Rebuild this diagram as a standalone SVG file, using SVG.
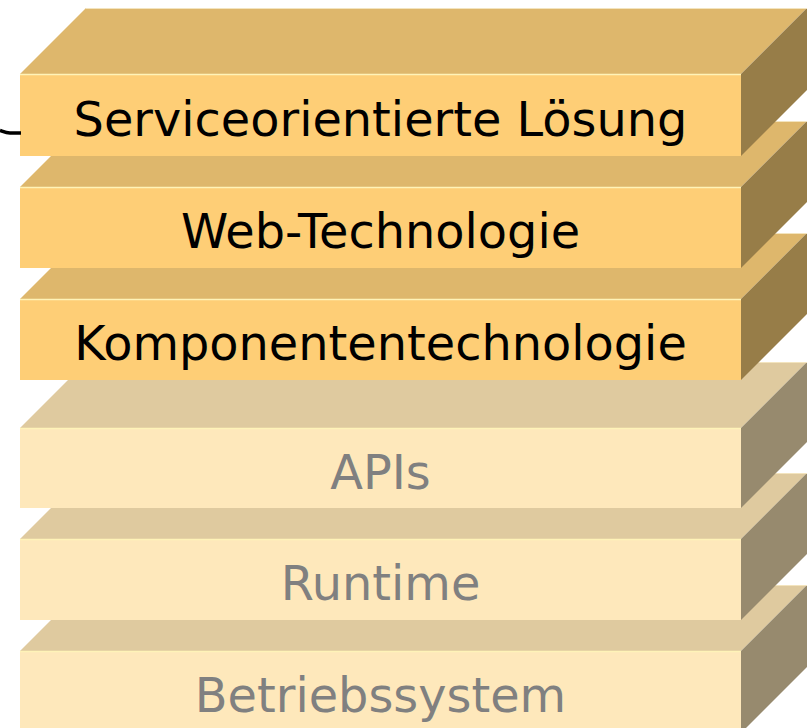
<svg xmlns="http://www.w3.org/2000/svg" width="811" height="728" viewBox="0 0 811 728">
  <style>
    .lbl { font-family: "DejaVu Sans", Verdana, sans-serif; font-size: 47.8px; text-anchor: middle; }
    .hot .front { fill: #FECE76; }
    .hot .top { fill: #DEB76C; }
    .hot .side { fill: #977D48; }
    .hot .lbl { fill: #000000; }
    .cold .front { fill: #FEE8BB; }
    .cold .top { fill: #DFCA9F; }
    .cold .side { fill: #978A6E; }
    .cold .lbl { fill: #808080; }
    .hl { stroke: #FFF3B8; stroke-width: 1.5; fill: none; }
    .edge { stroke: #F3E4BE; stroke-width: 1; fill: none; }
  </style>

  <rect width="811" height="728" fill="#FFFFFF"/>

  <!-- stack drawn from the bottom layer upward so upper slabs overlap lower ones -->
  <g id="layer-betriebssystem" class="cold">
    <polygon class="top" points="20,651 86,585 807,585 741,651"/>
    <polygon class="side" points="741,651 807,585 807,667 741,733"/>
    <rect class="front" x="20" y="651" width="721" height="82"/>
    <line class="hl" x1="20" y1="651.5" x2="741" y2="651.5"/>
    <line class="edge" x1="86" y1="585.5" x2="807" y2="585.5"/>
    <text class="lbl" x="380.5" y="712">Betriebssystem</text>
  </g>

  <g id="layer-runtime" class="cold">
    <polygon class="top" points="20,539 86,473 807,473 741,539"/>
    <polygon class="side" points="741,539 807,473 807,554 741,620"/>
    <rect class="front" x="20" y="539" width="721" height="81"/>
    <line class="hl" x1="20" y1="539.5" x2="741" y2="539.5"/>
    <line class="edge" x1="86" y1="473.5" x2="807" y2="473.5"/>
    <text class="lbl" x="380.5" y="600">Runtime</text>
  </g>

  <g id="layer-apis" class="cold">
    <polygon class="top" points="20,428 86,362 807,362 741,428"/>
    <polygon class="side" points="741,428 807,362 807,442 741,508"/>
    <rect class="front" x="20" y="428" width="721" height="80"/>
    <line class="hl" x1="20" y1="428.5" x2="741" y2="428.5"/>
    <line class="edge" x1="86" y1="362.5" x2="807" y2="362.5"/>
    <text class="lbl" x="380.5" y="489">APIs</text>
  </g>

  <g id="layer-komponententechnologie" class="hot">
    <polygon class="top" points="20,299 86,233 807,233 741,299"/>
    <polygon class="side" points="741,299 807,233 807,314 741,380"/>
    <rect class="front" x="20" y="299" width="721" height="81"/>
    <line class="hl" x1="20" y1="299.5" x2="741" y2="299.5"/>
    <line class="edge" x1="86" y1="233.5" x2="807" y2="233.5"/>
    <text class="lbl" x="380.5" y="360">Komponententechnologie</text>
  </g>

  <g id="layer-web-technologie" class="hot">
    <polygon class="top" points="20,187 86,121 807,121 741,187"/>
    <polygon class="side" points="741,187 807,121 807,202 741,268"/>
    <rect class="front" x="20" y="187" width="721" height="81"/>
    <line class="hl" x1="20" y1="187.5" x2="741" y2="187.5"/>
    <line class="edge" x1="86" y1="121.5" x2="807" y2="121.5"/>
    <text class="lbl" x="380.5" y="248">Web-Technologie</text>
  </g>

  <g id="layer-serviceorientierte-loesung" class="hot">
    <polygon class="top" points="20,74 86,8 807,8 741,74"/>
    <polygon class="side" points="741,74 807,8 807,90 741,156"/>
    <rect class="front" x="20" y="74" width="721" height="82"/>
    <line class="hl" x1="20" y1="74.5" x2="741" y2="74.5"/>
    <line class="edge" x1="86" y1="8.5" x2="807" y2="8.5"/>
    <text class="lbl" x="380.5" y="136">Serviceorientierte Lösung</text>
  </g>

  <!-- stub of a hand-drawn line entering the top layer from the left -->
  <g id="connectors">
    <path d="M0,130.5 C3,131.5 6,133 10,133 L21,133" fill="none" stroke="#000000" stroke-width="3.5" stroke-linecap="butt"/>
  </g>
</svg>
